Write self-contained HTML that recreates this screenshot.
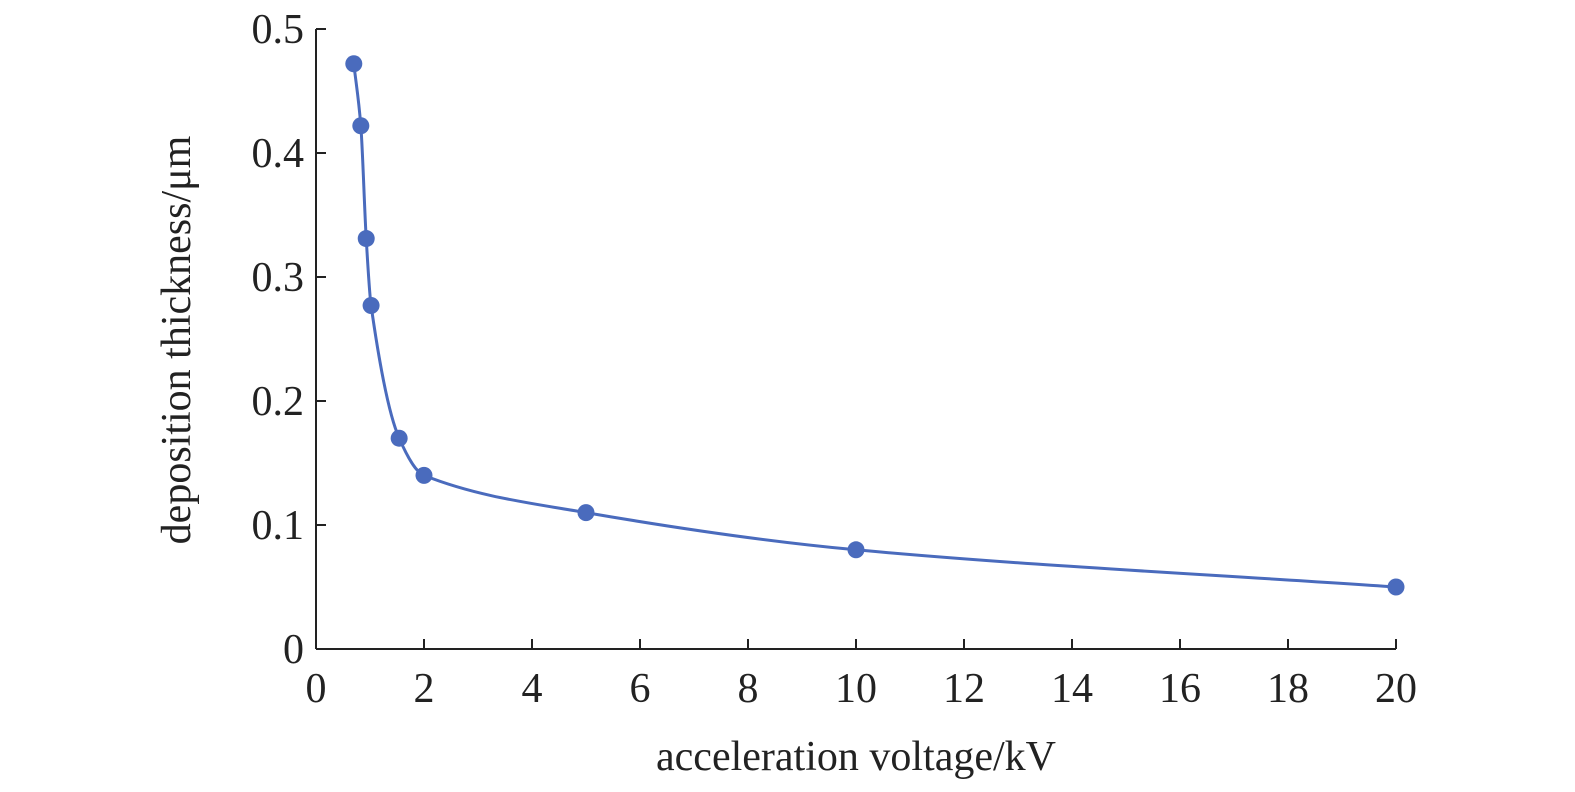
<!DOCTYPE html>
<html><head><meta charset="utf-8"><style>
html,body{margin:0;padding:0;background:#fff;}
svg text{font-family:"Liberation Serif",serif;fill:#222;}
</style></head><body>
<svg id="chart" width="1575" height="787" xmlns="http://www.w3.org/2000/svg">
<g id="axes"></g>
<g id="series"></g>
<text x="856" y="770" font-size="42" text-anchor="middle">acceleration voltage/kV</text>
<text transform="translate(190,340) rotate(-90)" font-size="42" text-anchor="middle">deposition thickness/μm</text>
</svg>
<script>
const xValues=[0.7,0.83,0.93,1.02,1.54,2,5,10,20];
const yValues=[0.472,0.422,0.331,0.277,0.17,0.14,0.11,0.08,0.05];
const xTicks=[0,2,4,6,8,10,12,14,16,18,20];
const yTicks=[0,0.1,0.2,0.3,0.4,0.5];
const yTickLabels=["0","0.1","0.2","0.3","0.4","0.5"];

const X0=316,X1=1396,Y0=649,Y1=29;
const sx=v=>X0+(v-0)/(20-0)*(X1-X0);
const sy=v=>Y0-(v-0)/(0.5-0)*(Y0-Y1);
const NS="http://www.w3.org/2000/svg";
const axes=document.getElementById('axes'),series=document.getElementById('series');
function mk(tag,attrs,parent){const e=document.createElementNS(NS,tag);for(const k in attrs)e.setAttribute(k,attrs[k]);parent.appendChild(e);return e;}
let xa=mk('line',{x1:X0,y1:Y0,x2:X1,y2:Y0,stroke:'#222','stroke-width':2},axes);


let ya=mk('line',{x1:X0,y1:Y0,x2:X0,y2:Y1,stroke:'#222','stroke-width':2},axes);


xTicks.forEach(t=>{
 const x=sx(t);
 const l=mk('line',{x1:x,y1:Y0,x2:x,y2:Y0-10,stroke:'#222','stroke-width':2},axes);
 
 
 const tx=mk('text',{x:x,y:Y0+53,'font-size':42,'text-anchor':'middle'},axes);
 tx.textContent=t;
 
 
});
yTicks.forEach((t,i)=>{
 const y=sy(t);
 const l=mk('line',{x1:X0,y1:y,x2:X0+10,y2:y,stroke:'#222','stroke-width':2},axes);
 
 
 const tx=mk('text',{x:X0-12,y:y+14,'font-size':42,'text-anchor':'end'},axes);
 tx.textContent=yTickLabels[i];
 
 
});
// monotone cubic path
const px=xValues.map(sx),py=yValues.map(sy),n=px.length;
const d=[],m=[];
for(let i=0;i<n-1;i++)d.push((py[i+1]-py[i])/(px[i+1]-px[i]));
m[0]=d[0];m[n-1]=d[n-2];
for(let i=1;i<n-1;i++){m[i]=(d[i-1]*d[i]<=0)?0:2/(1/d[i-1]+1/d[i]);}
let p=`M${px[0]},${py[0]}`;
for(let i=0;i<n-1;i++){const h=(px[i+1]-px[i])/3;
 p+=` C${px[i]+h},${py[i]+m[i]*h} ${px[i+1]-h},${py[i+1]-m[i+1]*h} ${px[i+1]},${py[i+1]}`;}
const path=mk('path',{d:p,fill:'none',stroke:'#4a6bbd','stroke-width':3},series);


for(let i=0;i<n;i++){
 const c=mk('circle',{cx:px[i],cy:py[i],r:8.5,fill:'#4a6bbd'},series);
 
 
}
</script>
</body></html>
